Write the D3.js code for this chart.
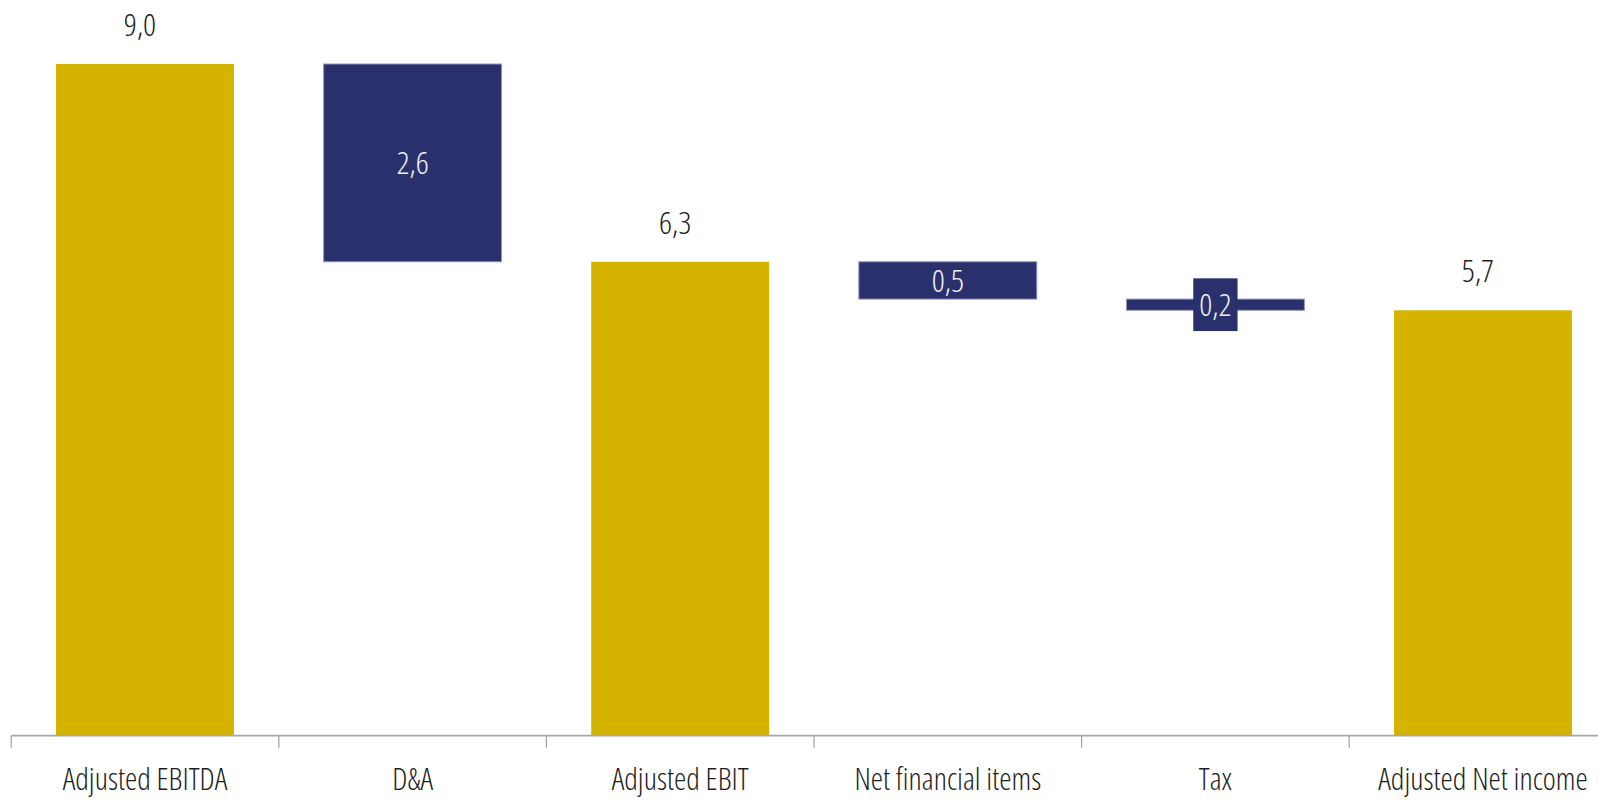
<!DOCTYPE html>
<html lang="en">
<head>
  <meta charset="UTF-8">
  <title>Adjusted EBITDA to Adjusted Net income</title>
  <script src="https://d3js.org/d3.v7.min.js"></script>
  <style>
    html,body{margin:0;padding:0;background:#fff}
    svg{display:block}
    .cat-label,.val-label{font-family:"Open Sans",sans-serif;font-weight:300;font-stretch:75%;text-anchor:middle}
    .cat-label{font-size:31px;fill:#1e1e1e}
    .val-label{font-size:32px}
  </style>
</head>
<body>
<div id="chart"></div>
<script>
/* --- data --- */
const categories=["Adjusted EBITDA","D&A","Adjusted EBIT","Net financial items","Tax","Adjusted Net income"];
const values=[9.0,2.65,6.35,0.5,0.15,5.7];
const kinds=["total","decrease","total","decrease","decrease","total"];
const valueLabels=["9,0","2,6","6,3","0,5","0,2","5,7"];

/* --- sizes --- */
const width=1598,height=804,
      axisY=735.7,topY=64,
      x0=11.2,step=267.6;

const yellow="#d5b400",navy="#2a306b";

const svg=d3.select("#chart").append("svg")
            .attr("width",width).attr("height",height);

const x=d3.scaleBand().domain(categories)
          .range([x0,x0+step*categories.length])
          .paddingInner(0.335).paddingOuter(0.1675);
const y=d3.scaleLinear().domain([0,9]).range([axisY,topY]);

/* --- waterfall levels --- */
let level=0;
const bars=categories.map((c,i)=>{
  let lo,hi;
  if(kinds[i]==="total"){lo=0;hi=values[i];level=values[i];}
  else{hi=level;lo=level-values[i];level=lo;}
  return {cat:c,kind:kinds[i],lo,hi,label:valueLabels[i]};
});

/* --- bars --- */
svg.selectAll("rect.bar").data(bars).join("rect")
   .attr("class","bar")
   .attr("x",d=>x(d.cat)).attr("width",x.bandwidth())
   .attr("y",d=>y(d.hi)).attr("height",d=>y(d.lo)-y(d.hi))
   .attr("fill",d=>d.kind==="total"?yellow:navy)
   .attr("stroke",d=>d.kind==="total"?"none":"#9194bd")
   .attr("stroke-width",1);

/* --- axis --- */
const bandStart=d=>x(d)-(x.step()-x.bandwidth())/2;
const axis=svg.append("g");
axis.append("line")
    .attr("x1",x0).attr("x2",width)
    .attr("y1",axisY).attr("y2",axisY)
    .attr("stroke","#a6a6a6").attr("stroke-width",1.8);
axis.selectAll("line.tick").data(categories).join("line")
    .attr("class","tick")
    .attr("x1",bandStart).attr("x2",bandStart)
    .attr("y1",axisY).attr("y2",axisY+12)
    .attr("stroke","#a6a6a6").attr("stroke-width",1.3);

axis.selectAll("text.cat-label").data(categories).join("text")
    .attr("class","cat-label")
    .attr("x",d=>x(d)+x.bandwidth()/2).attr("y",790)
    .text(d=>d);

/* --- value labels --- */
const cx=d=>x(d.cat)+x.bandwidth()/2;
bars.forEach(d=>{
  if(d.kind==="total"){
    svg.append("text").attr("class","val-label")
       .attr("x",cx(d)-5).attr("y",y(d.hi)-28)
       .attr("fill","#1e1e1e").text(d.label);
    return;
  }
  const mid=(y(d.hi)+y(d.lo))/2;
  const t=svg.append("text").attr("class","val-label")
             .attr("x",cx(d)).attr("y",mid).attr("dy","0.36em")
             .attr("fill","#eef0f6").text(d.label);
  // thin bar: label sits on its own navy box
  if(y(d.lo)-y(d.hi)<23){
    const w=t.node().getComputedTextLength()+12,h=52.7;
    svg.insert("rect",()=>t.node())
       .attr("x",cx(d)-w/2).attr("y",mid-h/2)
       .attr("width",w).attr("height",h)
       .attr("fill",navy);
  }
});
</script>
</body>
</html>
